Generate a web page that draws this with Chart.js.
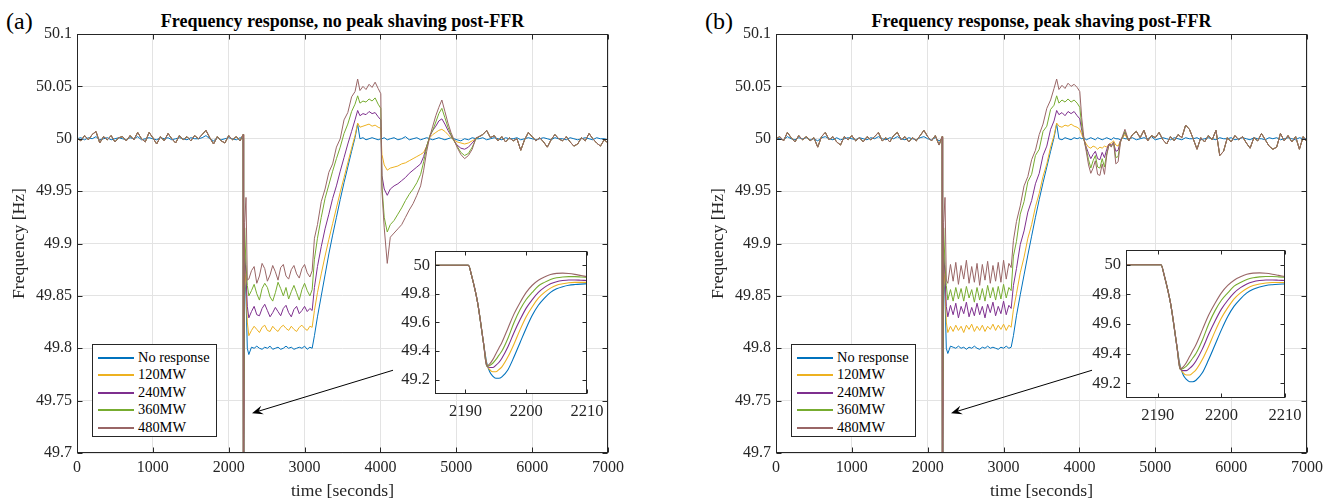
<!DOCTYPE html>
<html>
<head>
<meta charset="utf-8">
<script src="https://cdn.jsdelivr.net/npm/chart.js@4.4.1/dist/chart.umd.min.js"></script>
<style>
  html, body { margin: 0; padding: 0; background: #fff; }
  body { width: 1336px; height: 502px; position: relative; overflow: hidden;
         font-family: 'Liberation Serif', 'Times New Roman', serif; color: #262626; }
  canvas { position: absolute; }
  .title { position: absolute; text-align: center; font-weight: bold; font-size: 18px; line-height: 22px; color: #000; white-space: nowrap; }
  .tag { position: absolute; font-size: 24px; line-height: 28px; color: #000; }
  .legend { position: absolute; width: 125px; height: 93px; background: #fff; border: 1px solid #262626; box-sizing: border-box; }
  .legend div { position: absolute; left: 45px; font-size: 14.4px; line-height: 16px; white-space: nowrap; color: #000; }
  .legend span { position: absolute; left: -40px; top: 8px; width: 36px; height: 2px; }
</style>
</head>
<body>
<div class="tag" style="left:6px; top:7px;">(a)</div>
<div class="tag" style="left:705px; top:7px;">(b)</div>
<div class="title" style="left:77px; width:531px; top:10px;">Frequency response, no peak shaving post-FFR</div>
<div class="title" style="left:776px; width:531px; top:10px;">Frequency response, peak shaving post-FFR</div>
<canvas id="mainA" width="668" height="502" style="left:0px; top:0px;"></canvas>
<canvas id="mainB" width="637" height="502" style="left:699px; top:0px;"></canvas>
<canvas id="insetA" width="218" height="190" style="left:395px; top:236px;"></canvas>
<canvas id="insetB" width="225" height="195" style="left:1086px; top:235px;"></canvas>
<script>
// ---------- labels / colours ----------
const seriesLabels = ['No response', '120MW', '240MW', '360MW', '480MW'];
const seriesColors = ['#0072BD', '#EDB120', '#7E2F8E', '#77AC30', '#996666'];

const timeTicks = [0, 1000, 2000, 3000, 4000, 5000, 6000, 7000];
const freqTicks = [49.7, 49.75, 49.8, 49.85, 49.9, 49.95, 50, 50.05, 50.1];
const insetTimeTicks = [2190, 2200, 2210];
const insetFreqTicks = [49.2, 49.4, 49.6, 49.8, 50];

// arrow annotation (time, Hz)
const arrowFrom = [4166, 49.779];
const arrowTo = [2307, 49.738];

// ---------- before the event (same times in both panels) ----------
const timePre = [0, 50, 100, 150, 200, 250, 300, 350, 400, 450, 500, 550, 600, 650, 700, 750, 800, 850, 900, 950,
  1000, 1050, 1100, 1150, 1200, 1250, 1300, 1350, 1400, 1450, 1500, 1550, 1600, 1650, 1700, 1750, 1800, 1850, 1900, 1950,
  2000, 2050, 2100, 2150, 2190];

const preNoRespA = [50.000, 50.001, 49.999, 50.001, 50.000, 50.002, 49.999, 50.000, 50.001, 49.999,
  50.000, 50.001, 50.000, 49.999, 50.001, 50.000, 50.002, 49.999, 50.000, 50.001,
  50.000, 49.999, 50.001, 50.000, 50.001, 49.999, 50.000, 50.001, 50.000, 49.999,
  50.001, 50.000, 50.000, 50.001, 50.003, 50.000, 49.998, 50.001, 49.999, 50.000,
  50.001, 50.000, 49.999, 50.001, 50.000];
const preRespA = [50.001, 49.998, 50.003, 49.999, 50.004, 50.007, 49.996, 50.002, 49.999, 50.003,
  49.997, 50.001, 50.002, 49.998, 50.003, 49.999, 50.006, 50.000, 49.997, 50.006,
  50.001, 49.995, 50.002, 49.998, 50.005, 50.000, 49.996, 50.003, 49.999, 50.002,
  49.998, 50.003, 50.000, 50.004, 50.008, 50.001, 49.995, 50.002, 49.998, 49.996,
  50.003, 49.999, 50.002, 49.998, 50.004];
const preNoRespB = [50.001, 50.000, 49.999, 50.002, 50.000, 49.999, 50.001, 50.000, 50.001, 49.999,
  50.000, 49.998, 50.001, 50.002, 50.000, 49.999, 50.001, 49.999, 50.000, 50.001,
  50.000, 49.999, 50.001, 50.000, 49.999, 50.001, 50.000, 50.002, 50.000, 49.999,
  50.001, 50.000, 50.002, 50.000, 49.999, 50.001, 50.000, 49.999, 50.001, 50.002,
  50.000, 49.999, 50.001, 49.998, 50.000];
const preRespB = [50.000, 50.002, 49.998, 50.006, 50.001, 49.997, 50.003, 49.999, 50.002, 49.998,
  50.001, 49.992, 50.002, 50.006, 49.999, 50.002, 49.997, 49.994, 50.002, 49.999,
  50.003, 49.998, 50.001, 49.997, 50.002, 49.999, 50.002, 50.006, 49.998, 50.001,
  49.997, 50.003, 50.006, 49.999, 50.002, 49.997, 50.001, 49.998, 50.003, 50.008,
  50.002, 49.998, 50.003, 49.994, 50.002];

// ---------- loss event, FFR plateau, ramp, peak (times shared) ----------
const timeFault = [2193, 2195, 2200, 2210, 2228, 2245,
  2265, 2300, 2335, 2370, 2405, 2440, 2475, 2510, 2545, 2580, 2615, 2650, 2685, 2720, 2755, 2790, 2825, 2860, 2895, 2930, 2965, 3000, 3035, 3070, 3100,
  3130, 3170, 3220, 3270, 3320, 3370, 3420, 3470, 3520, 3570, 3620, 3665, 3700,
  3730, 3770, 3810, 3850, 3890, 3930, 3970, 4005];

const faultNoRespA = [49.45, 49.21, 49.56, 49.87, 49.85, 49.80,
  49.794, 49.801, 49.800, 49.802, 49.800, 49.799, 49.801, 49.800, 49.802, 49.799, 49.800, 49.801, 49.799, 49.800, 49.802, 49.800, 49.801, 49.799, 49.800, 49.801, 49.800, 49.802, 49.799, 49.801, 49.800,
  49.812, 49.830, 49.850, 49.870, 49.890, 49.908, 49.925, 49.942, 49.958, 49.973, 49.988, 50.001, 50.014,
  50.000, 50.001, 49.999, 50.000, 50.001, 50.000, 49.999, 50.000];
const fault120A = [49.45, 49.255, 49.64, 49.88, 49.86, 49.825,
  49.812, 49.817, 49.821, 49.818, 49.815, 49.820, 49.822, 49.817, 49.816, 49.821, 49.818, 49.816, 49.820, 49.822, 49.819, 49.817, 49.821, 49.818, 49.816, 49.820, 49.822, 49.819, 49.817, 49.821, 49.820,
  49.836, 49.853, 49.871, 49.888, 49.904, 49.919, 49.934, 49.949, 49.963, 49.977, 49.991, 50.003, 50.015,
  50.011, 50.012, 50.013, 50.014, 50.012, 50.013, 50.011, 50.010];
const fault240A = [49.45, 49.30, 49.70, 49.893, 49.87, 49.84,
  49.829, 49.835, 49.840, 49.832, 49.831, 49.838, 49.842, 49.836, 49.830, 49.834, 49.839, 49.835, 49.831, 49.838, 49.841, 49.834, 49.830, 49.837, 49.840, 49.833, 49.836, 49.840, 49.835, 49.838, 49.836,
  49.858, 49.878, 49.897, 49.914, 49.928, 49.943, 49.955, 49.969, 49.982, 49.995, 50.007, 50.018, 50.027,
  50.022, 50.024, 50.023, 50.026, 50.024, 50.025, 50.021, 50.018];
const fault360A = [49.45, 49.34, 49.76, 49.915, 49.88, 49.86,
  49.850, 49.855, 49.861, 49.852, 49.846, 49.857, 49.862, 49.858, 49.849, 49.845, 49.853, 49.863, 49.857, 49.850, 49.858, 49.847, 49.854, 49.860, 49.853, 49.846, 49.856, 49.862, 49.855, 49.850, 49.856,
  49.885, 49.905, 49.925, 49.943, 49.956, 49.969, 49.981, 49.992, 50.005, 50.014, 50.026, 50.033, 50.041,
  50.034, 50.036, 50.035, 50.038, 50.036, 50.039, 50.033, 50.029];
const fault480A = [49.45, 49.30, 49.81, 49.92, 49.944, 49.865,
  49.866, 49.874, 49.878, 49.862, 49.869, 49.881, 49.876, 49.864, 49.870, 49.879, 49.873, 49.865, 49.877, 49.880, 49.869, 49.866, 49.875, 49.879, 49.871, 49.867, 49.876, 49.880, 49.872, 49.868, 49.874,
  49.905, 49.918, 49.940, 49.952, 49.968, 49.976, 49.992, 50.000, 50.018, 50.025, 50.040, 50.045, 50.057,
  50.046, 50.050, 50.047, 50.052, 50.049, 50.054, 50.048, 50.043];

const faultNoRespB = [49.45, 49.21, 49.56, 49.87, 49.85, 49.80,
  49.795, 49.802, 49.801, 49.800, 49.802, 49.800, 49.801, 49.799, 49.801, 49.800, 49.802, 49.800, 49.799, 49.801, 49.800, 49.802, 49.800, 49.801, 49.800, 49.799, 49.801, 49.800, 49.802, 49.800, 49.801,
  49.812, 49.831, 49.851, 49.870, 49.889, 49.907, 49.925, 49.942, 49.958, 49.973, 49.988, 50.001, 50.014,
  50.000, 49.999, 50.001, 50.000, 49.999, 50.001, 50.000, 50.001];
const fault120B = [49.45, 49.255, 49.64, 49.88, 49.86, 49.825,
  49.815, 49.821, 49.816, 49.822, 49.817, 49.821, 49.815, 49.822, 49.818, 49.823, 49.816, 49.821, 49.817, 49.822, 49.816, 49.821, 49.818, 49.823, 49.817, 49.822, 49.818, 49.823, 49.817, 49.822, 49.820,
  49.837, 49.852, 49.872, 49.887, 49.905, 49.918, 49.935, 49.948, 49.964, 49.976, 49.992, 50.003, 50.015,
  50.012, 50.011, 50.013, 50.012, 50.014, 50.012, 50.011, 50.009];
const fault240B = [49.45, 49.30, 49.70, 49.893, 49.87, 49.84,
  49.830, 49.841, 49.832, 49.843, 49.829, 49.840, 49.833, 49.844, 49.830, 49.839, 49.831, 49.843, 49.832, 49.840, 49.829, 49.842, 49.834, 49.844, 49.831, 49.840, 49.833, 49.845, 49.832, 49.841, 49.838,
  49.860, 49.876, 49.899, 49.912, 49.930, 49.941, 49.957, 49.967, 49.984, 49.993, 50.009, 50.017, 50.027,
  50.023, 50.025, 50.022, 50.026, 50.024, 50.026, 50.022, 50.019];
const fault360B = [49.45, 49.34, 49.76, 49.915, 49.88, 49.86,
  49.846, 49.856, 49.845, 49.858, 49.847, 49.857, 49.845, 49.859, 49.848, 49.856, 49.844, 49.858, 49.846, 49.857, 49.845, 49.860, 49.848, 49.858, 49.846, 49.859, 49.847, 49.861, 49.848, 49.858, 49.855,
  49.888, 49.902, 49.928, 49.940, 49.959, 49.966, 49.984, 49.990, 50.007, 50.012, 50.028, 50.032, 50.041,
  50.034, 50.037, 50.035, 50.038, 50.035, 50.037, 50.034, 50.030];
const fault480B = [49.45, 49.30, 49.81, 49.92, 49.944, 49.865,
  49.862, 49.880, 49.864, 49.882, 49.861, 49.879, 49.866, 49.884, 49.862, 49.878, 49.863, 49.881, 49.860, 49.880, 49.865, 49.883, 49.862, 49.879, 49.864, 49.882, 49.863, 49.884, 49.866, 49.881, 49.877,
  49.903, 49.921, 49.936, 49.955, 49.964, 49.980, 49.989, 50.004, 50.014, 50.029, 50.037, 50.048, 50.057,
  50.047, 50.051, 50.048, 50.053, 50.050, 50.052, 50.049, 50.045];

// ---------- after FFR release ----------
const timeReleaseA = [4020, 4050, 4090, 4130, 4180, 4230, 4280, 4330, 4380, 4430, 4480, 4530, 4570, 4610, 4650,
  4690, 4730, 4770, 4810, 4850, 4890, 4930, 4970, 5010, 5060, 5110, 5160, 5210, 5260];
const releaseNoRespA = [50.000, 50.001, 49.999, 50.000, 50.001, 49.999, 50.000, 50.002, 49.999, 50.000, 50.001, 49.999, 50.000, 50.001, 50.000,
  49.999, 50.000, 50.001, 50.000, 49.999, 50.000, 50.001, 50.000, 49.999, 49.998, 50.000, 49.999, 50.001, 50.000];
const release120A = [49.985, 49.975, 49.970, 49.972, 49.973, 49.974, 49.976, 49.977, 49.979, 49.981, 49.983, 49.985, 49.987, 49.993, 50.001,
  50.004, 50.006, 50.008, 50.009, 50.007, 50.004, 50.001, 49.999, 49.997, 49.996, 49.995, 49.996, 49.998, 50.000];
const release240A = [49.965, 49.952, 49.946, 49.952, 49.955, 49.957, 49.960, 49.963, 49.967, 49.970, 49.973, 49.976, 49.983, 49.993, 50.002,
  50.008, 50.012, 50.017, 50.019, 50.014, 50.008, 50.003, 49.998, 49.994, 49.991, 49.990, 49.992, 49.996, 50.000];
const release360A = [49.955, 49.925, 49.911, 49.918, 49.922, 49.928, 49.934, 49.941, 49.947, 49.952, 49.958, 49.966, 49.978, 49.992, 50.003,
  50.008, 50.016, 50.024, 50.029, 50.020, 50.011, 50.004, 49.998, 49.993, 49.987, 49.984, 49.986, 49.992, 50.000];
const release480A = [49.950, 49.915, 49.881, 49.906, 49.910, 49.914, 49.918, 49.925, 49.932, 49.938, 49.946, 49.955, 49.970, 49.988, 50.002,
  50.012, 50.022, 50.030, 50.037, 50.026, 50.015, 50.006, 49.999, 49.992, 49.985, 49.981, 49.984, 49.990, 50.001];

const timeReleaseB = [4030, 4060, 4090, 4120, 4150, 4180, 4210, 4240, 4270, 4300, 4330, 4360, 4390, 4420, 4450, 4480, 4510, 4540, 4570, 4600];
const releaseNoRespB = [50.000, 50.001, 49.999, 50.000, 50.001, 50.000, 49.999, 50.001, 50.000, 49.999, 50.000, 50.001, 50.000, 49.999, 50.001, 50.000, 50.000, 49.999, 50.001, 50.000];
const release120B = [50.004, 49.999, 49.995, 49.992, 49.991, 49.993, 49.992, 49.990, 49.992, 49.991, 49.993, 49.992, 49.995, 49.996, 49.998, 49.994, 49.993, 49.998, 50.001, 50.004];
const release240B = [50.008, 49.999, 49.992, 49.986, 49.981, 49.985, 49.988, 49.981, 49.980, 49.987, 49.982, 49.990, 49.995, 49.994, 49.996, 49.988, 49.989, 49.998, 50.002, 50.006];
const release360B = [50.012, 49.999, 49.990, 49.980, 49.972, 49.979, 49.984, 49.973, 49.972, 49.981, 49.973, 49.986, 49.994, 49.993, 49.996, 49.982, 49.983, 49.997, 50.002, 50.007];
const release480B = [50.020, 50.000, 49.988, 49.975, 49.967, 49.972, 49.979, 49.966, 49.965, 49.976, 49.966, 49.984, 49.995, 49.992, 49.997, 49.976, 49.978, 49.996, 50.003, 50.009];

// ---------- tail (responding units overlap) ----------
const timeTailA = [5300, 5350, 5400, 5450, 5500, 5550, 5600, 5650, 5700, 5750, 5800, 5850, 5900, 5950, 6000, 6050, 6100, 6150, 6200, 6250,
  6300, 6350, 6400, 6450, 6500, 6550, 6600, 6650, 6700, 6750, 6800, 6850, 6900, 6950, 7000];
const tailNoRespA = [50.000, 50.001, 49.999, 50.000, 50.001, 50.000, 49.999, 50.001, 50.000, 50.000,
  50.001, 49.999, 50.000, 50.001, 50.000, 49.999, 50.000, 50.001, 50.000, 49.999,
  50.001, 50.000, 50.000, 49.999, 50.001, 50.000, 49.999, 50.000, 50.001, 50.000,
  49.999, 50.001, 50.000, 50.000, 49.999];
const tailRespA = [50.002, 50.004, 50.008, 50.001, 50.003, 49.998, 50.002, 49.997, 50.001, 49.998,
  50.000, 49.989, 49.999, 50.006, 50.002, 49.998, 50.001, 49.997, 49.992, 49.999,
  50.004, 50.000, 49.998, 50.002, 49.997, 49.993, 49.995, 50.001, 49.998, 50.005,
  50.000, 49.996, 49.993, 49.999, 49.996];

const timeTailB = [4650, 4700, 4750, 4800, 4850, 4900, 4950, 5000, 5050, 5100, 5150, 5200, 5250, 5300, 5350, 5400,
  5450, 5500, 5550, 5600, 5650, 5700, 5750, 5800, 5850, 5900, 5950, 6000, 6050, 6100, 6150, 6200,
  6250, 6300, 6350, 6400, 6450, 6500, 6550, 6600, 6650, 6700, 6750, 6800, 6850, 6900, 6950, 7000];
const tailNoRespB = [50.000, 50.001, 49.999, 50.000, 50.001, 50.000, 50.002, 49.999,
  50.000, 50.001, 50.000, 49.999, 50.001, 50.000, 49.999, 50.001,
  50.000, 50.000, 50.001, 49.999, 50.000, 50.001, 50.000, 49.999,
  50.001, 50.000, 50.000, 50.001, 49.999, 50.000, 50.001, 50.000,
  49.999, 50.001, 50.000, 50.000, 49.999, 50.001, 50.000, 50.001,
  49.999, 50.000, 50.001, 50.000, 49.999, 50.001, 50.000, 50.000];
const tailRespB = [49.998, 50.004, 50.007, 50.001, 50.008, 49.998, 50.003, 50.001,
  50.006, 49.999, 49.995, 50.002, 49.998, 50.004, 50.001, 50.013,
  50.009, 50.000, 49.990, 50.001, 49.997, 50.003, 49.999, 50.008,
  49.984, 49.988, 50.001, 49.997, 50.003, 49.999, 50.002, 49.996,
  49.991, 50.001, 49.998, 50.005, 49.999, 49.993, 49.990, 49.992,
  50.005, 49.998, 50.003, 49.997, 50.002, 49.990, 50.002, 49.997];

// ---------- inset: first 25 s after the loss (same in both panels) ----------
const insetTime = [2185, 2190, 2190.5, 2191, 2192, 2193, 2193.5, 2194, 2194.5, 2195, 2195.5, 2196, 2197, 2198, 2199,
  2200, 2201, 2202, 2203, 2204, 2205, 2206, 2207, 2208, 2209, 2210];
const insetNoResp = [50, 50, 50, 49.93, 49.74, 49.45, 49.32, 49.255, 49.225, 49.21, 49.21, 49.22, 49.27, 49.36, 49.46,
  49.56, 49.65, 49.72, 49.77, 49.81, 49.835, 49.85, 49.86, 49.865, 49.868, 49.87];
const inset120 = [50, 50, 50, 49.93, 49.74, 49.45, 49.31, 49.27, 49.255, 49.255, 49.27, 49.29, 49.36, 49.45, 49.55,
  49.64, 49.71, 49.77, 49.81, 49.84, 49.86, 49.87, 49.877, 49.88, 49.88, 49.88];
const inset240 = [50, 50, 50, 49.93, 49.74, 49.45, 49.30, 49.285, 49.285, 49.30, 49.32, 49.35, 49.43, 49.53, 49.62,
  49.70, 49.76, 49.81, 49.845, 49.87, 49.885, 49.893, 49.897, 49.897, 49.895, 49.893];
const inset360 = [50, 50, 50, 49.93, 49.74, 49.45, 49.295, 49.30, 49.315, 49.34, 49.37, 49.40, 49.49, 49.60, 49.69,
  49.76, 49.81, 49.855, 49.88, 49.90, 49.912, 49.918, 49.92, 49.92, 49.918, 49.915];
const inset480 = [50, 50, 50, 49.93, 49.74, 49.45, 49.295, 49.31, 49.34, 49.38, 49.42, 49.46, 49.56, 49.66, 49.74,
  49.81, 49.86, 49.895, 49.918, 49.935, 49.943, 49.945, 49.942, 49.936, 49.928, 49.92];

// ---------- assemble ----------
const timeA = [...timePre, ...timeFault, ...timeReleaseA, ...timeTailA];
const timeB = [...timePre, ...timeFault, ...timeReleaseB, ...timeTailB];
const seriesA = [
  [...preNoRespA, ...faultNoRespA, ...releaseNoRespA, ...tailNoRespA],
  [...preRespA, ...fault120A, ...release120A, ...tailRespA],
  [...preRespA, ...fault240A, ...release240A, ...tailRespA],
  [...preRespA, ...fault360A, ...release360A, ...tailRespA],
  [...preRespA, ...fault480A, ...release480A, ...tailRespA]
];
const seriesB = [
  [...preNoRespB, ...faultNoRespB, ...releaseNoRespB, ...tailNoRespB],
  [...preRespB, ...fault120B, ...release120B, ...tailRespB],
  [...preRespB, ...fault240B, ...release240B, ...tailRespB],
  [...preRespB, ...fault360B, ...release360B, ...tailRespB],
  [...preRespB, ...fault480B, ...release480B, ...tailRespB]
];
const insetSeries = [insetNoResp, inset120, inset240, inset360, inset480];

function points(times, values) {
  return times.map((t, i) => ({x: t, y: values[i]}));
}
function fmt(v) { return String(Math.round(v * 100) / 100); }

Chart.defaults.font.family = "'Liberation Serif', 'Times New Roman', serif";
Chart.defaults.color = '#262626';

// matlab-like box with inward ticks on all four sides
const axesFrame = {
  id: 'axesFrame',
  beforeDraw(chart, args, o) {
    if (!o.fill) return;
    const a = chart.chartArea, ctx = chart.ctx;
    ctx.save(); ctx.fillStyle = o.fill;
    ctx.fillRect(a.left, a.top, a.right - a.left, a.bottom - a.top);
    ctx.restore();
  },
  afterDatasetsDraw(chart, args, o) {
    const {ctx, chartArea: a, scales: {x, y}} = chart;
    const L = Math.round(a.left) + 0.5, R = Math.round(a.right) - 0.5;
    const T = Math.round(a.top) + 0.5, B = Math.round(a.bottom) - 0.5;
    const len = o.tick;
    ctx.save();
    ctx.strokeStyle = '#262626'; ctx.lineWidth = 1;
    ctx.beginPath();
    x.ticks.forEach(t => {
      const px = Math.round(x.getPixelForValue(t.value)) + 0.5;
      ctx.moveTo(px, B); ctx.lineTo(px, B - len);
      ctx.moveTo(px, T); ctx.lineTo(px, T + len);
    });
    y.ticks.forEach(t => {
      const py = Math.round(y.getPixelForValue(t.value)) + 0.5;
      ctx.moveTo(L, py); ctx.lineTo(L + len, py);
      ctx.moveTo(R, py); ctx.lineTo(R - len, py);
    });
    ctx.stroke();
    ctx.strokeRect(L, T, R - L, B - T);
    ctx.restore();
  }
};

const arrowPlugin = {
  id: 'arrow',
  afterDraw(chart, args, o) {
    const {ctx, scales: {x, y}} = chart;
    const x0 = x.getPixelForValue(o.from[0]), y0 = y.getPixelForValue(o.from[1]);
    const x1 = x.getPixelForValue(o.to[0]), y1 = y.getPixelForValue(o.to[1]);
    const ang = Math.atan2(y1 - y0, x1 - x0);
    const c = Math.cos(ang), s = Math.sin(ang);
    const headLen = 11, half = 4.5, notch = 7;
    ctx.save();
    ctx.strokeStyle = '#000'; ctx.fillStyle = '#000'; ctx.lineWidth = 1;
    ctx.beginPath();
    ctx.moveTo(x0, y0);
    ctx.lineTo(x1 - c * notch, y1 - s * notch);
    ctx.stroke();
    const bx = x1 - c * headLen, by = y1 - s * headLen;
    ctx.beginPath();
    ctx.moveTo(x1, y1);
    ctx.lineTo(bx - s * half, by + c * half);
    ctx.lineTo(x1 - c * notch, y1 - s * notch);
    ctx.lineTo(bx + s * half, by - c * half);
    ctx.closePath();
    ctx.fill();
    ctx.restore();
  }
};

function mainChart(id, times, series, rightPad) {
  return new Chart(document.getElementById(id), {
    type: 'line',
    data: {
      datasets: series.map((vals, i) => ({
        label: seriesLabels[i],
        data: points(times, vals),
        borderColor: seriesColors[i],
        borderWidth: 1,
        pointRadius: 0,
        tension: 0,
        order: series.length - i
      }))
    },
    options: {
      responsive: false, devicePixelRatio: 1, animation: false, events: [],
      layout: {padding: {top: 34, right: rightPad, left: 0, bottom: 0}},
      scales: {
        x: {
          type: 'linear', min: 0, max: 7000,
          afterBuildTicks: s => { s.ticks = timeTicks.map(v => ({value: v})); },
          afterFit: s => { s.height = 49; },
          grid: {color: '#e3e3e3', drawTicks: false},
          border: {display: false},
          ticks: {font: {size: 16}, padding: 5, maxRotation: 0, color: '#262626', callback: v => String(v)},
          title: {display: true, text: 'time [seconds]', font: {size: 17.6}, color: '#262626', padding: {top: 0, bottom: 0}}
        },
        y: {
          type: 'linear', min: 49.7, max: 50.1,
          afterBuildTicks: s => { s.ticks = freqTicks.map(v => ({value: v})); },
          afterFit: s => { s.width = 77; },
          grid: {color: '#e3e3e3', drawTicks: false},
          border: {display: false},
          ticks: {font: {size: 16}, padding: 5, color: '#262626', callback: fmt},
          title: {display: true, text: 'Frequency [Hz]', font: {size: 17.6}, color: '#262626', padding: {top: 9, bottom: 0}}
        }
      },
      plugins: {
        legend: {display: false},
        tooltip: {enabled: false},
        axesFrame: {tick: 5},
        arrow: {from: arrowFrom, to: arrowTo}
      }
    },
    plugins: [axesFrame, arrowPlugin]
  });
}

function insetChart(id, xHeight, rightPad) {
  return new Chart(document.getElementById(id), {
    type: 'line',
    data: {
      datasets: insetSeries.map((vals, i) => ({
        label: seriesLabels[i],
        data: points(insetTime, vals),
        borderColor: seriesColors[i],
        borderWidth: 1.1,
        pointRadius: 0,
        cubicInterpolationMode: 'monotone',
        order: insetSeries.length - i
      }))
    },
    options: {
      responsive: false, devicePixelRatio: 1, animation: false, events: [],
      layout: {padding: {top: 10, right: rightPad, left: 0, bottom: 0}},
      scales: {
        x: {
          type: 'linear', min: 2185, max: 2210,
          afterBuildTicks: s => { s.ticks = insetTimeTicks.map(v => ({value: v})); },
          afterFit: s => { s.height = xHeight; },
          grid: {display: false, drawTicks: false}, border: {display: false},
          ticks: {font: {size: 16.5}, padding: 8, maxRotation: 0, color: '#262626', callback: v => String(v)}
        },
        y: {
          type: 'linear', min: 49.1, max: 50.1,
          afterBuildTicks: s => { s.ticks = insetFreqTicks.map(v => ({value: v})); },
          afterFit: s => { s.width = 40; },
          grid: {display: false, drawTicks: false}, border: {display: false},
          ticks: {font: {size: 16.5}, padding: 5, color: '#262626', callback: fmt}
        }
      },
      plugins: {legend: {display: false}, tooltip: {enabled: false}, axesFrame: {tick: 4, fill: '#ffffff'}}
    },
    plugins: [axesFrame]
  });
}

function legendBox(left, top) {
  const box = document.createElement('div');
  box.className = 'legend';
  box.style.left = left + 'px';
  box.style.top = top + 'px';
  seriesLabels.forEach((label, i) => {
    const row = document.createElement('div');
    row.style.top = Math.round(3.5 + i * 17.6) + 'px';
    const line = document.createElement('span');
    line.style.background = seriesColors[i];
    row.appendChild(line);
    row.appendChild(document.createTextNode(label));
    box.appendChild(row);
  });
  document.body.appendChild(box);
}

mainChart('mainA', timeA, seriesA, 60);
mainChart('mainB', timeB, seriesB, 29);
insetChart('insetA', 32, 26);
insetChart('insetB', 32, 26);
legendBox(92, 344);
legendBox(791, 344);
</script>
</body>
</html>
